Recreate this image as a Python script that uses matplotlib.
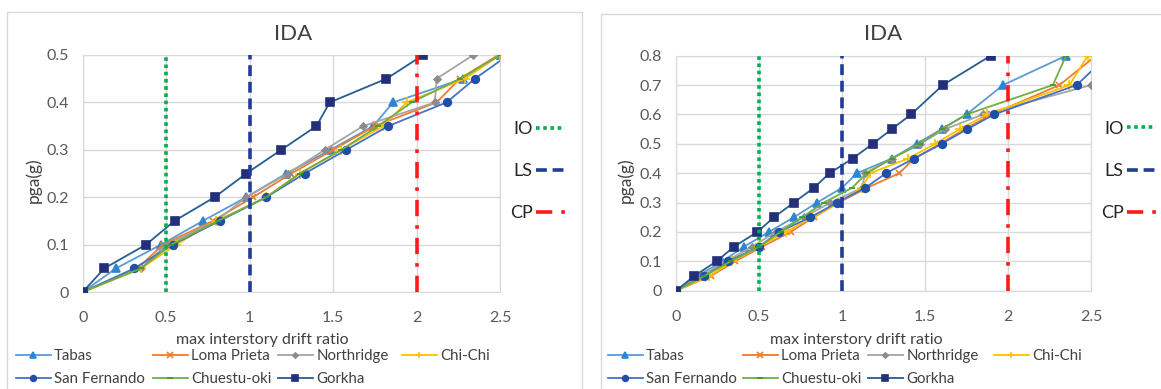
import matplotlib
matplotlib.use('Agg')
import matplotlib.pyplot as plt
from matplotlib.patches import Rectangle

plt.rcParams['font.family'] = ['Lato', 'DejaVu Sans']

# ---- data: pga levels and max interstory drift ratio per record ----
records = ['Tabas', 'Loma Prieta', 'Northridge', 'Chi-Chi',
           'San Fernando', 'Chuestu-oki', 'Gorkha']

# left chart
pga_left = [0, 0.05, 0.1, 0.15, 0.2, 0.25, 0.3, 0.35, 0.4, 0.45, 0.5]
tabas_l = [0, 0.2, 0.47, 0.72, 0.98, 1.22, 1.485, 1.74, 1.86, 2.28, 2.5]
loma_l = [0, 0.33, 0.48, 0.78, 1.02, 1.25, 1.5, 1.75, 2.12, 2.26, 2.49]
north_l = [0, 0.35, 0.5, 0.8, 0.98, 1.23, 1.45, 1.68, 2.11, 2.12, 2.34]
chichi_l = [0, 0.35, 0.56, 0.8, 1.1, 1.3, 1.55, 1.8, 1.94, 2.29, 2.5]
sanf_l = [0, 0.31, 0.54, 0.82, 1.1, 1.33, 1.58, 1.83, 2.18, 2.35, 2.55]
chue_l = [0, 0.35, 0.53, 0.81, 1.1, 1.3, 1.55, 1.77, 1.97, 2.26, 2.5]
gorkha_l = [0, 0.13, 0.38, 0.55, 0.79, 0.98, 1.19, 1.40, 1.48, 1.82, 2.04]

# right chart
pga_right = [0, 0.05, 0.1, 0.15, 0.2, 0.25, 0.3, 0.35, 0.4, 0.45, 0.5, 0.55, 0.6, 0.7, 0.8]
tabas_r = [0, 0.13, 0.28, 0.41, 0.56, 0.71, 0.85, 1.0, 1.09, 1.30, 1.45, 1.60, 1.75, 1.97, 2.35]
loma_r = [0, 0.21, 0.356, 0.52, 0.69, 0.83, 0.98, 1.15, 1.345, 1.435, 1.59, 1.74, 1.9, 2.31, 2.53]
north_r = [0, 0.15, 0.3, 0.46, 0.6, 0.77, 0.93, 1.12, 1.14, 1.3, 1.47, 1.62, 1.85, 2.5, 2.95]
chichi_r = [0, 0.2, 0.34, 0.5, 0.66, 0.82, 0.98, 1.12, 1.17, 1.40, 1.56, 1.71, 1.875, 2.37, 2.48]
sanf_r = [0, 0.17, 0.315, 0.5, 0.62, 0.81, 0.97, 1.14, 1.265, 1.435, 1.6, 1.755, 1.916, 2.414, 2.6]
chue_r = [0, 0.17, 0.33, 0.5, 0.63, 0.76, 0.89, 1.06, 1.15, 1.30, 1.47, 1.6, 1.75, 2.27, 2.35]
gorkha_r = [0, 0.11, 0.244, 0.35, 0.49, 0.59, 0.71, 0.83, 0.925, 1.064, 1.185, 1.30, 1.416, 1.607, 1.896]

# performance levels (drift ratio)
levels = ['IO', 'LS', 'CP']
level_drift = [0.5, 1.0, 2.0]

# ---- styles ----
line_col = ['#5B9BD5', '#ED7D31', '#A5A5A5', '#FFC000', '#4472C4', '#70AD47', '#255E91']
mark_col = ['#2E86D1', '#ED7D31', '#8C8C8C', '#FFC000', '#1F4FA8', '#3A9A2A', '#232F7A']
markers = ['^', 'x', 'D', '+', 'o', '_', 's']
msizes = [5.5, 5, 3.5, 6.5, 5.5, 5, 5.5]
lev_col = ['#00B050', '#1F3C99', '#FF1A1A']
lev_ls = [(0, (1, 1)), (0, (3, 1.6)), (0, (4.5, 2.5, 1, 2.5))]

txt = '#595959'
grid = '#D9D9D9'
W, H = 1161, 389

fig = plt.figure(figsize=(W / 100, H / 100), dpi=100)

# chart area frames
fig.add_artist(Rectangle((7 / W, -0.1), (582 - 7) / W, 1.1 - 12 / H,
                         transform=fig.transFigure, fill=False, ec=grid, lw=1))
fig.add_artist(Rectangle((601 / W, -0.1), (1175 - 601) / W, 1.1 - 14 / H,
                         transform=fig.transFigure, fill=False, ec=grid, lw=1))

panels = [
    dict(rect=[82.7 / W, 1 - 292 / H, 417.3 / W, 237 / H], y=pga_left,
         xs=[tabas_l, loma_l, north_l, chichi_l, sanf_l, chue_l, gorkha_l],
         ymax=0.5, cx=293, lx=262, yl=33, cols=[16, 153, 278, 402]),
    dict(rect=[676 / W, 1 - 290.7 / H, 415 / W, 235 / H], y=pga_right,
         xs=[tabas_r, loma_r, north_r, chichi_r, sanf_r, chue_r, gorkha_r],
         ymax=0.8, cx=883, lx=856, yl=625, cols=[608, 743, 868, 994]),
]

for p in panels:
    ax = fig.add_axes(p['rect'])
    handles = []
    for i, name in enumerate(records):
        h, = ax.plot(p['xs'][i], p['y'], color=line_col[i], lw=1.3,
                     marker=markers[i], ms=msizes[i], mfc=mark_col[i],
                     mec=mark_col[i], mew=1.2, label=name, zorder=3 + i * 0.1)
        handles.append(h)
    lev_handles = []
    for j, lv in enumerate(levels):
        h = ax.axvline(level_drift[j], color=lev_col[j], lw=2.6,
                       ls=lev_ls[j], zorder=5, label=lv)
        lev_handles.append(h)

    ax.set_xlim(0, 2.5)
    ax.set_ylim(0, p['ymax'])
    ax.set_xticks([0, 0.5, 1, 1.5, 2, 2.5])
    ax.set_xticklabels(['0', '0.5', '1', '1.5', '2', '2.5'])
    n = int(round(p['ymax'] * 10))
    yt = [k / 10 for k in range(n + 1)]
    ax.set_yticks(yt)
    ax.set_yticklabels(['0' if v == 0 else str(v) for v in yt])
    ax.tick_params(length=0, labelsize=11.5, colors=txt)
    ax.tick_params(axis='x', pad=14)
    ax.tick_params(axis='y', pad=10)
    ax.grid(True, color=grid, lw=1)
    ax.set_axisbelow(True)
    for s in ax.spines.values():
        s.set_color(grid)

    ax.legend(handles=lev_handles, loc='center left', bbox_to_anchor=(1.0, 0.51),
              markerfirst=False, frameon=False, fontsize=13, labelcolor='#262626',
              handlelength=1.6, handletextpad=0.2, labelspacing=1.45,
              borderaxespad=0.15)

    fig.text(p['cx'] / W, 1 - 34 / H, 'IDA', ha='center', va='center',
             fontsize=16, color='#404040')
    fig.text(p['lx'] / W, 1 - 340 / H, 'max interstory drift ratio',
             ha='center', va='center', fontsize=11.5, color='#404040')
    fig.text(p['yl'] / W, 1 - 180 / H, 'pga(g)', ha='center', va='center',
             rotation=90, fontsize=12.5, color='#404040')

    # bottom legend, one column at a time
    groups = [[0, 4], [1, 5], [2, 6], [3]]
    for cx, g in zip(p['cols'], groups):
        fig.legend(handles=[handles[k] for k in g], loc='upper left',
                   bbox_to_anchor=(cx / W, 1 - 349 / H), frameon=False,
                   fontsize=10.8, labelcolor='#404040', handlelength=2.3,
                   handletextpad=0.25, labelspacing=0.6, borderpad=0,
                   borderaxespad=0, markerscale=0.75)

fig.savefig('out.png', dpi=100)
